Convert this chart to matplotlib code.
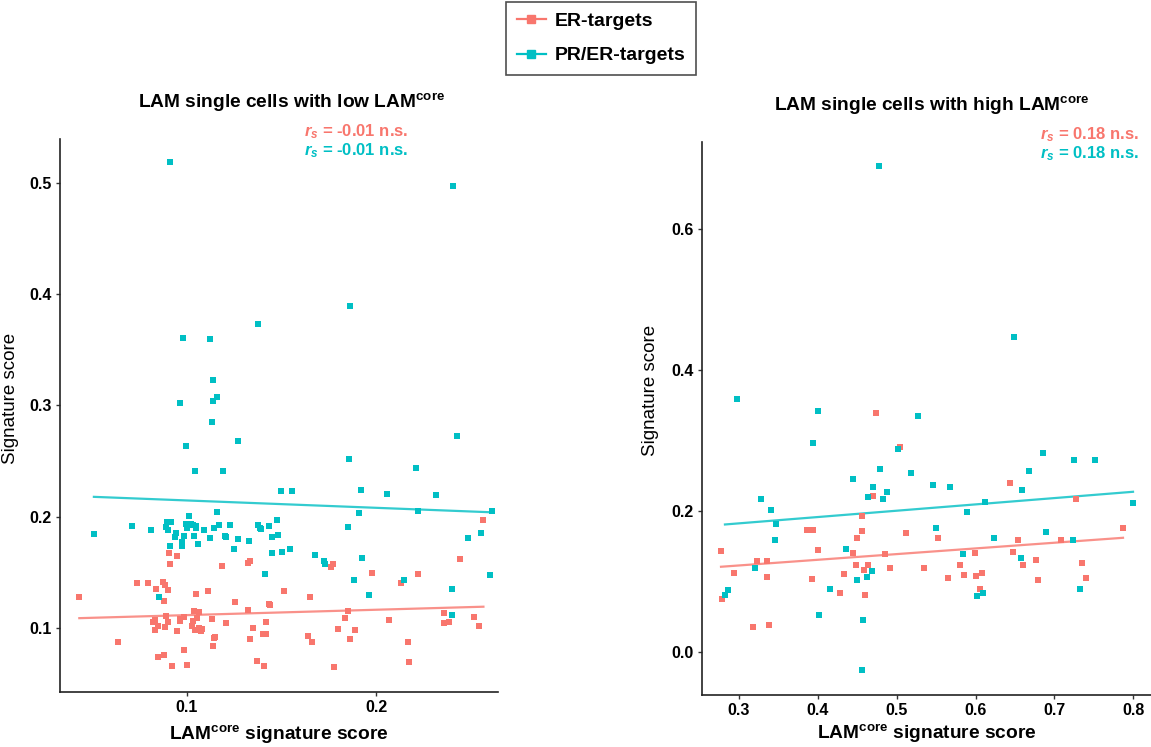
import numpy as np
import matplotlib
matplotlib.use("Agg")
import matplotlib.pyplot as plt
from matplotlib.lines import Line2D

plt.rcParams['font.family'] = ['Liberation Sans', 'DejaVu Sans']
plt.rcParams['mathtext.fontset'] = 'custom'
plt.rcParams['mathtext.rm'] = 'Liberation Sans:bold'
plt.rcParams['mathtext.it'] = 'Liberation Sans:italic:bold'
plt.rcParams['mathtext.bf'] = 'Liberation Sans:bold'

# ---------------- data ----------------
series_names = ["ER-targets", "PR/ER-targets"]
colors = ["#F8766D", "#00BFC4"]

# Left panel: LAM single cells with low LAM-core
low_er_x = [0.0433, 0.0637, 0.0739, 0.0798, 0.0836, 0.0877, 0.0888, 0.0900, 0.0879, 0.0905,
            0.0947, 0.0914, 0.1049, 0.1111, 0.1185, 0.1255, 0.1326, 0.1322, 0.1335, 0.1435,
            0.1442, 0.1516, 0.1650, 0.1761, 0.1775, 0.1851, 0.1837, 0.1981, 0.2132, 0.2224,
            0.2444, 0.2567, 0.2361, 0.2359, 0.2384, 0.2516, 0.2543, 0.2067, 0.2171, 0.2176,
            0.1801, 0.1861, 0.1889, 0.1778, 0.1639, 0.1662, 0.1370, 0.1410, 0.1349, 0.1335,
            0.1405, 0.1419, 0.1419, 0.1206, 0.1136, 0.1150, 0.1146, 0.1137, 0.1037, 0.1065,
            0.1053, 0.1032, 0.1026, 0.1044, 0.1067, 0.1079, 0.1076, 0.0986, 0.0963, 0.0965,
            0.0951, 0.0889, 0.0900, 0.0888, 0.0831, 0.0824, 0.0850, 0.0831, 0.0986, 0.0879,
            0.0847, 0.0921, 0.1002]
low_er_y = [0.1276, 0.0877, 0.1405, 0.1405, 0.1351, 0.1408, 0.1381, 0.1339, 0.1240, 0.1670,
            0.1646, 0.1571, 0.1303, 0.1330, 0.1553, 0.1234, 0.1162, 0.1583, 0.1598, 0.1213,
            0.1204, 0.1333, 0.1279, 0.1547, 0.1571, 0.1150, 0.1084, 0.1495, 0.1405, 0.1480,
            0.1619, 0.1970, 0.1129, 0.1042, 0.1051, 0.1093, 0.1021, 0.1069, 0.0877, 0.0691,
            0.0988, 0.0904, 0.0979, 0.0649, 0.0928, 0.0877, 0.0703, 0.0658, 0.1000, 0.0904,
            0.0946, 0.0946, 0.1051, 0.1042, 0.1078, 0.0922, 0.0910, 0.0841, 0.1150, 0.1138,
            0.1090, 0.1060, 0.1018, 0.0982, 0.0997, 0.0994, 0.0973, 0.1096, 0.1081, 0.1060,
            0.0976, 0.1108, 0.1051, 0.1012, 0.1072, 0.1048, 0.1018, 0.0982, 0.0805, 0.0760,
            0.0742, 0.0658, 0.0670]

low_pr_x = [0.0912, 0.2409, 0.1863, 0.1379, 0.0981, 0.1125, 0.1141, 0.1158, 0.1139, 0.0967,
            0.1134, 0.1269, 0.0996, 0.1044, 0.1194, 0.1858, 0.2426, 0.2213, 0.1498, 0.1555,
            0.1919, 0.2058, 0.2315, 0.1162, 0.1908, 0.2224, 0.2611, 0.0510, 0.0711, 0.0810,
            0.0898, 0.0919, 0.0891, 0.0901, 0.1014, 0.0996, 0.1021, 0.1035, 0.1049, 0.1004,
            0.1049, 0.0944, 0.0938, 0.0986, 0.1039, 0.0973, 0.0975, 0.1062, 0.0912, 0.1093,
            0.1146, 0.1173, 0.1227, 0.1125, 0.1201, 0.1206, 0.1269, 0.1248, 0.1331, 0.1375,
            0.1387, 0.1391, 0.1435, 0.1475, 0.1453, 0.1484, 0.1453, 0.1502, 0.1544, 0.1680,
            0.1727, 0.1731, 0.1854, 0.1928, 0.1884, 0.1963, 0.2150, 0.1414, 0.0852, 0.2402,
            0.2402, 0.2483, 0.2553, 0.2604]
low_pr_y = [0.5186, 0.4976, 0.3895, 0.3733, 0.3610, 0.3598, 0.3225, 0.3078, 0.3039, 0.3018,
            0.2850, 0.2676, 0.2634, 0.2408, 0.2414, 0.2514, 0.2724, 0.2435, 0.2228, 0.2228,
            0.2237, 0.2201, 0.2192, 0.2045, 0.2036, 0.2051, 0.2054, 0.1847, 0.1919, 0.1883,
            0.1952, 0.1952, 0.1907, 0.1883, 0.2009, 0.1937, 0.1937, 0.1928, 0.1919, 0.1898,
            0.1898, 0.1853, 0.1817, 0.1829, 0.1823, 0.1769, 0.1739, 0.1754, 0.1733, 0.1883,
            0.1898, 0.1922, 0.1925, 0.1811, 0.1829, 0.1817, 0.1799, 0.1706, 0.1781, 0.1922,
            0.1898, 0.1889, 0.1916, 0.1970, 0.1817, 0.1835, 0.1670, 0.1682, 0.1706, 0.1658,
            0.1601, 0.1571, 0.1907, 0.1625, 0.1432, 0.1291, 0.1432, 0.1486, 0.1276, 0.1351,
            0.1111, 0.1808, 0.1853, 0.1477]

# fitted trend lines (value at the lowest and highest x of each series)
low_er_fit = [0.1087, 0.1190]
low_pr_fit = [0.2178, 0.2039]

# Right panel: LAM single cells with high LAM-core
high_er_x = [0.4741, 0.5041, 0.4703, 0.4555, 0.4560, 0.4500, 0.3858, 0.3934, 0.4002, 0.4441,
             0.4847, 0.5117, 0.5519, 0.4484, 0.4581, 0.4640, 0.4910, 0.4331, 0.4276, 0.4593,
             0.3930, 0.2772, 0.3232, 0.3351, 0.2937, 0.3359, 0.2784, 0.3173, 0.3385, 0.5346,
             0.5654, 0.5806, 0.5849, 0.5988, 0.6001, 0.6081, 0.6056, 0.6440, 0.6542, 0.6470,
             0.6605, 0.6762, 0.6787, 0.7087, 0.7273, 0.7353, 0.7404, 0.7869]
high_er_y = [0.3381, 0.2908, 0.2217, 0.1929, 0.1707, 0.1617, 0.1721, 0.1721, 0.1437, 0.1395,
             0.1385, 0.1683, 0.1608, 0.1234, 0.1163, 0.1234, 0.1191, 0.1106, 0.0832, 0.0799,
             0.1026, 0.1428, 0.1281, 0.1281, 0.1121, 0.1064, 0.0752, 0.0345, 0.0378, 0.1191,
             0.1045, 0.1234, 0.1092, 0.1395, 0.1078, 0.1121, 0.0889, 0.2397, 0.1584, 0.1409,
             0.1225, 0.1305, 0.1012, 0.1579, 0.2161, 0.1262, 0.1050, 0.1759]

high_pr_x = [0.4780, 0.6490, 0.2975, 0.3997, 0.3934, 0.5274, 0.5012, 0.4788, 0.5185, 0.4441,
             0.4695, 0.4631, 0.4830, 0.4881, 0.5464, 0.5680, 0.6859, 0.7252, 0.7518, 0.6681,
             0.6584, 0.6119, 0.7996, 0.5895, 0.3275, 0.3410, 0.3473, 0.3456, 0.3203, 0.2861,
             0.2822, 0.5498, 0.6238, 0.6888, 0.7239, 0.5836, 0.6571, 0.7328, 0.6013, 0.6094,
             0.4352, 0.4686, 0.4619, 0.4496, 0.4154, 0.4014, 0.4577, 0.4555]
high_pr_y = [0.6890, 0.4470, 0.3590, 0.3418, 0.2960, 0.3348, 0.2884, 0.2600, 0.2530, 0.2454,
             0.2340, 0.2199, 0.2170, 0.2270, 0.2369, 0.2340, 0.2818, 0.2719, 0.2728, 0.2572,
             0.2293, 0.2128, 0.2113, 0.1981, 0.2161, 0.2009, 0.1811, 0.1584, 0.1191, 0.0875,
             0.0799, 0.1749, 0.1608, 0.1693, 0.1579, 0.1381, 0.1329, 0.0894, 0.0790, 0.0832,
             0.1452, 0.1149, 0.1059, 0.1017, 0.0894, 0.0520, 0.0444, -0.0260]

high_er_fit = [0.1206, 0.1617]
high_pr_fit = [0.1806, 0.2270]

titles = ["LAM single cells with low LAM$^{\\mathrm{core}}$",
          "LAM single cells with high LAM$^{\\mathrm{core}}$"]
rs_texts = [["-0.01", "-0.01"], ["0.18", "0.18"]]
xlabel = "LAM$^{\\mathrm{core}}$ signature score"
ylabel = "Signature score"

left_xticks = [0.1, 0.2]
left_yticks = [0.1, 0.2, 0.3, 0.4, 0.5]
right_xticks = [0.3, 0.4, 0.5, 0.6, 0.7, 0.8]
right_yticks = [0.0, 0.2, 0.4, 0.6]

# ---------------- figure ----------------
W, H = 1151, 747
fig = plt.figure(figsize=(W / 100, H / 100), dpi=100)

def px_axes(l, t, r, b):
    return fig.add_axes([l / W, (H - b) / H, (r - l) / W, (b - t) / H])

ax1 = px_axes(60, 139, 498, 692)
ax2 = px_axes(702, 142, 1151, 695)

panels = [
    dict(ax=ax1, er=(low_er_x, low_er_y, low_er_fit), pr=(low_pr_x, low_pr_y, low_pr_fit),
         xlim=(0.0331, 0.2644), ylim=(0.0423, 0.5396), xt=left_xticks, yt=left_yticks,
         title=titles[0], rs=rs_texts[0], tx=0.558, title_px=(292, 103),
         ylab_y=0.53, ylab_x=-0.094, xlab_y=-0.057),
    dict(ax=ax2, er=(high_er_x, high_er_y, high_er_fit), pr=(high_pr_x, high_pr_y, high_pr_fit),
         xlim=(0.2531, 0.8224), ylim=(-0.0614, 0.7234), xt=right_xticks, yt=right_yticks,
         title=titles[1], rs=rs_texts[1], tx=0.752, title_px=(932, 106),
         ylab_y=0.55, ylab_x=-0.096, xlab_y=-0.050),
]

for p in panels:
    ax = p['ax']
    for (xs, ys, fit), c in zip([p['er'], p['pr']], colors):
        xs = np.asarray(xs)
        ys = np.asarray(ys)
        ax.scatter(xs, ys, marker='s', s=16, color=c, linewidths=0, zorder=3)
        ax.plot([xs.min(), xs.max()], fit, color=c, lw=1.6, alpha=0.8, zorder=2)
    ax.set_xlim(*p['xlim'])
    ax.set_ylim(*p['ylim'])
    ax.set_xticks(p['xt'])
    ax.set_yticks(p['yt'])
    ax.set_xticklabels(["%.1f" % v for v in p['xt']], fontsize=11.5, fontweight='bold')
    ax.set_yticklabels(["%.1f" % v for v in p['yt']], fontsize=11.5, fontweight='bold')
    ax.tick_params(length=3, width=1, color='#333333', pad=3)
    for s in ['top', 'right']:
        ax.spines[s].set_visible(False)
    for s in ['left', 'bottom']:
        ax.spines[s].set_linewidth(1.2)
        ax.spines[s].set_color('#222222')
    ax.set_xlabel(xlabel, fontsize=13.8, fontweight='bold')
    ax.xaxis.set_label_coords(0.5, p['xlab_y'])
    ax.set_ylabel(ylabel, fontsize=13.5)
    ax.yaxis.set_label_coords(p['ylab_x'], p['ylab_y'])
    fig.text(p['title_px'][0] / W, 1 - p['title_px'][1] / H, p['title'],
             fontsize=13.8, fontweight='bold', ha='center', va='center')
    ax.text(p['tx'], 1.0135, "$r_s$ = %s n.s." % p['rs'][0], transform=ax.transAxes,
            color=colors[0], fontsize=12, fontweight='bold', ha='left', va='center',
            clip_on=False)
    ax.text(p['tx'], 0.979, "$r_s$ = %s n.s." % p['rs'][1], transform=ax.transAxes,
            color=colors[1], fontsize=12, fontweight='bold', ha='left', va='center',
            clip_on=False)

handles = [Line2D([], [], color=c, marker='s', markersize=6, lw=1.6, alpha=1.0)
           for c in colors]
leg = fig.legend(handles, series_names, loc='upper left',
                 bbox_to_anchor=(506 / W, 1 - 2 / H),
                 prop={'weight': 'bold', 'size': 14}, frameon=True, fancybox=False,
                 edgecolor='#222222', borderpad=0.55, handlelength=1.5, handletextpad=0.45,
                 labelspacing=0.85, borderaxespad=0)
leg.get_frame().set_linewidth(1.2)

fig.savefig("out.png", dpi=100)
